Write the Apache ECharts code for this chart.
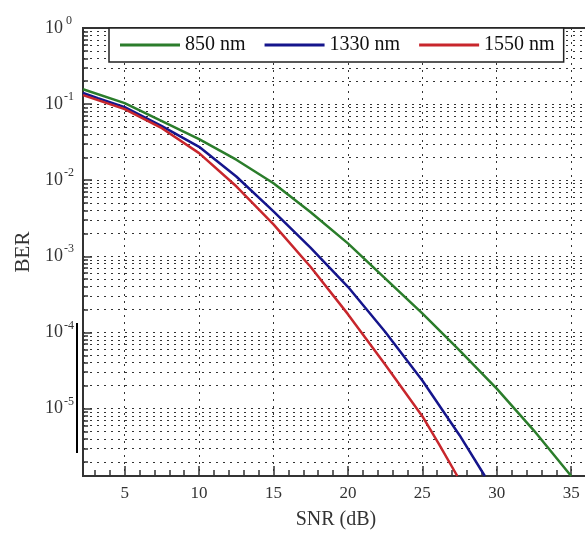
<!DOCTYPE html>
<html>
<head>
<meta charset="utf-8">
<script src="https://cdn.jsdelivr.net/npm/echarts@6/dist/echarts.min.js"></script>
<style>
html,body{margin:0;padding:0;background:#fff;overflow:hidden;}
#chart{width:585px;height:536px;}
</style>
</head>
<body>
<div id="chart"></div>
<script>
// ---- data ----
const seriesNames = ['850 nm', '1330 nm', '1550 nm'];

const snr850 = [2.2, 5, 7.5, 10, 12.5, 15, 17.5, 20, 22.5, 25, 27.5, 30, 32.5, 35];
const ber850 = [0.157, 0.103, 0.0598, 0.0346, 0.0186, 0.00912, 0.0038, 0.00148, 5.14e-4, 1.78e-4, 5.8e-5, 1.83e-5, 5.14e-6, 1.3e-6];

const snr1330 = [2.2, 3.2, 5, 7.5, 10, 12.5, 15, 17.5, 20, 22.5, 25, 27.5, 29.2];
const ber1330 = [0.140, 0.120, 0.0914, 0.0514, 0.0275, 0.0112, 0.00389, 0.00129, 3.98e-4, 1.02e-4, 2.34e-5, 4.47e-6, 1.3e-6];

const snr1550 = [2.2, 5, 7.5, 10, 12.5, 15, 17.5, 20, 22.5, 25, 26.1, 27.35];
const ber1550 = [0.131, 0.0859, 0.0483, 0.0227, 0.00832, 0.00263, 7.24e-4, 1.74e-4, 3.8e-5, 7.94e-6, 3.46e-6, 1.3e-6];

const xTickLabels = [5, 10, 15, 20, 25, 30, 35];
const xMinorTicks = [3, 4, 6, 7, 8, 9, 11, 12, 13, 14, 16, 17, 18, 19, 21, 22, 23, 24, 26, 27, 28, 29, 31, 32, 33, 34, 36];
const yTickLabels = [1e-5, 1e-4, 1e-3, 1e-2, 1e-1, 1];
const yMinorMantissas = [2, 3, 4, 5, 6, 7, 8, 9];
const yDecadesForMinor = [1e-6, 1e-5, 1e-4, 1e-3, 1e-2, 1e-1];

// ---- build ----
const xMin = 2.2, xMax = 36.2, yMin = 1.3e-6, yMax = 1;
const yMinor = [];
yDecadesForMinor.forEach(d => yMinorMantissas.forEach(m => {
  const v = +(m * d).toPrecision(3);
  if (v > yMin && v < yMax) yMinor.push(v);
}));

const toPairs = (xs, ys) => xs.map((x, i) => [x, ys[i]]);
const serif = 'Liberation Serif';
const colors = ['#2b7d2b', '#15158c', '#c8262c'];
const dotted = {type: [2, 5], color: '#333', width: 1};

const chart = echarts.init(document.getElementById('chart'), null, {renderer: 'canvas'});

function lineSeries(name, xs, ys, color) {
  return {
    name: name, type: 'line', data: toPairs(xs, ys),
    symbol: 'none', smooth: false,
    lineStyle: {color: color, width: 2.5}, itemStyle: {color: color},
    z: 3, clip: true
  };
}

const option = {
  animation: false,
  backgroundColor: '#ffffff',
  color: colors,
  grid: {left: 83, top: 28, width: 506, bottom: 60, show: true,
         outerBoundsMode: 'none', containLabel: false,
         borderColor: '#333', borderWidth: 2, backgroundColor: 'transparent'},
  legend: {
    data: seriesNames, left: 109, top: 28,
    icon: 'rect', itemWidth: 60, itemHeight: 3, itemGap: 19,
    padding: [7, 9, 7, 11],
    backgroundColor: '#fff', borderColor: '#222', borderWidth: 1.5,
    textStyle: {fontFamily: serif, fontSize: 20, color: '#111'}
  },
  xAxis: [{
    type: 'value', min: xMin, max: xMax,
    axisLine: {show: true, lineStyle: {color: '#333', width: 2}},
    axisTick: {show: true, inside: true, length: 10, customValues: xTickLabels, lineStyle: {color: '#333', width: 1.5}},
    axisLabel: {customValues: xTickLabels, margin: 9, fontFamily: serif, fontSize: 17, color: '#333'},
    splitLine: {show: true, lineStyle: dotted},
    name: 'SNR (dB)', nameLocation: 'middle', nameGap: 34,
    nameTextStyle: {fontFamily: serif, fontSize: 20, color: '#333'}
  }, {
    type: 'value', min: xMin, max: xMax, position: 'bottom',
    axisLine: {show: false},
    axisTick: {show: true, inside: true, length: 6, customValues: xMinorTicks, lineStyle: {color: '#333', width: 1.5}},
    axisLabel: {show: false}, splitLine: {show: false}
  }],
  yAxis: [{
    type: 'log', min: yMin, max: yMax,
    axisLine: {show: true, lineStyle: {color: '#333', width: 2}},
    axisTick: {show: true, inside: true, length: 9, customValues: yTickLabels, lineStyle: {color: '#333', width: 1.5}},
    axisLabel: {
      customValues: yTickLabels, margin: 8,
      formatter: function (v) {
        const e = Math.round(Math.log10(v));
        return '{b|10}{s|' + e + '}';
      },
      rich: {
        b: {fontFamily: serif, fontSize: 18, color: '#333', lineHeight: 26},
        s: {fontFamily: serif, fontSize: 12, color: '#333', verticalAlign: 'top', width: 12, align: 'left'}
      }
    },
    splitLine: {show: true, lineStyle: dotted},
    name: 'BER', nameLocation: 'middle', nameGap: 42, nameRotate: 90,
    nameTextStyle: {fontFamily: serif, fontSize: 21, color: '#333'}
  }, {
    type: 'log', min: yMin, max: yMax, position: 'left',
    axisLine: {show: false},
    axisTick: {show: true, inside: true, length: 5, customValues: yMinor, lineStyle: {color: '#333', width: 1.5}},
    axisLabel: {show: false},
    splitLine: {show: true, lineStyle: dotted}
  }],
  series: [
    lineSeries(seriesNames[0], snr850, ber850, colors[0]),
    lineSeries(seriesNames[1], snr1330, ber1330, colors[1]),
    lineSeries(seriesNames[2], snr1550, ber1550, colors[2])
  ],
  graphic: [{
    type: 'rect', silent: true,
    shape: {x: 76, y: 323, width: 2, height: 130},
    style: {fill: '#000'}
  }]
};
chart.setOption(option);
</script>
</body>
</html>
